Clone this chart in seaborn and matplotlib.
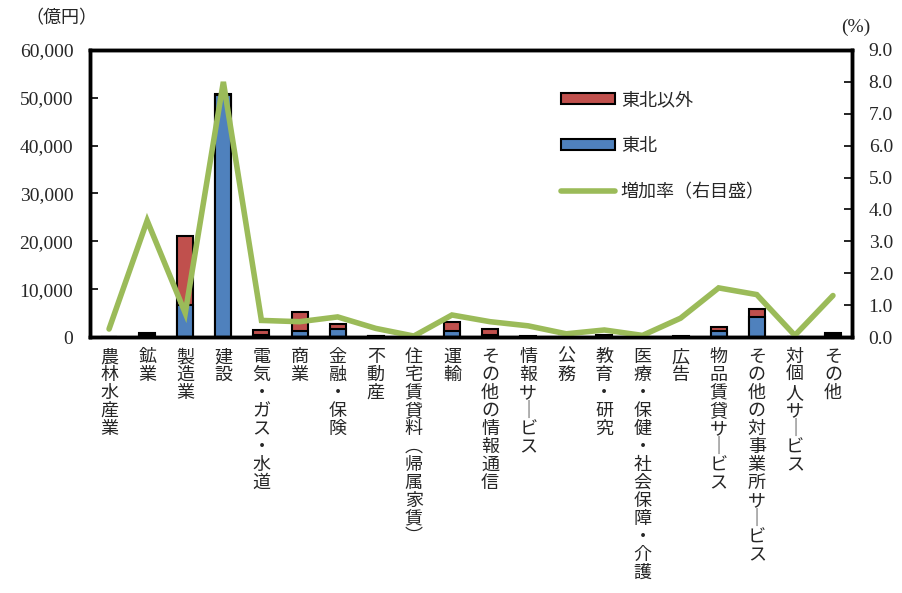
import numpy as np
import pandas as pd
import matplotlib
matplotlib.use("Agg")
import matplotlib.pyplot as plt
import seaborn as sns
from matplotlib.patches import Patch
from matplotlib.lines import Line2D
from matplotlib.ticker import FixedLocator, FuncFormatter

categories = ["農林水産業", "鉱業", "製造業", "建設", "電気・ガス・水道", "商業", "金融・保険",
              "不動産", "住宅賃貸料（帰属家賃）", "運輸", "その他の情報通信", "情報サービス", "公務",
              "教育・研究", "医療・保健・社会保障・介護", "広告", "物品賃貸サービス",
              "その他の対事業所サービス", "対個人サービス", "その他"]
tohoku = [60, 400, 6700, 50500, 400, 1200, 1600, 150, 20, 1200, 500, 100, 10,
          100, 10, 100, 1200, 4200, 50, 500]
other = [40, 350, 14500, 300, 1100, 4100, 1200, 150, 20, 1900, 1200, 100, 10,
         350, 10, 100, 900, 1600, 50, 400]
rate = [0.25, 3.65, 0.75, 8.0, 0.52, 0.48, 0.63, 0.27, 0.03, 0.69, 0.48, 0.35, 0.10,
        0.22, 0.05, 0.59, 1.54, 1.33, 0.05, 1.30]

left_ticks = [0, 10000, 20000, 30000, 40000, 50000, 60000]
right_ticks = [0, 1, 2, 3, 4, 5, 6, 7, 8, 9]

sns.set_theme(style="white")
plt.rcParams['font.family'] = ['Liberation Serif', 'Noto Sans CJK JP', 'DejaVu Sans']

RED = "#C0504D"
BLUE = "#4F81BD"
GREEN = "#9BBB59"

n = len(categories)
df = pd.DataFrame({"cat": categories, "tohoku": tohoku, "other": other, "rate": rate})
df["total"] = df["tohoku"] + df["other"]

fig = plt.figure(figsize=(9.03, 5.93), dpi=100)
ax = fig.add_axes([90/903, 1-337/593, (852-90)/903, (337-50)/593])

sns.barplot(data=df, x="cat", y="total", color=RED, saturation=1, width=0.42,
            edgecolor="black", linewidth=1.5, ax=ax, order=categories)
sns.barplot(data=df, x="cat", y="tohoku", color=BLUE, saturation=1, width=0.42,
            edgecolor="black", linewidth=1.5, ax=ax, order=categories)

ax.set_xlim(-0.5, n - 0.5)
ax.set_ylim(0, 60000)
ax.set_xlabel("")
ax.set_ylabel("")

def vert(s):
    m = {"ー": "│", "（": "︵", "）": "︶"}
    return "\n".join(m.get(c, c) for c in s)

ax.set_xticks(range(n))
ax.set_xticklabels([vert(c) for c in categories], va="top", fontsize=13,
                   linespacing=1.0, family=['Noto Sans CJK JP', 'DejaVu Sans'])
ax.tick_params(axis="x", which="major", length=0, pad=8)
ax.xaxis.set_minor_locator(FixedLocator(np.arange(-0.5, n, 1.0)))
ax.tick_params(axis="x", which="minor", length=5, width=1.2, direction="out", color="black")

ax.set_yticks(left_ticks)
ax.yaxis.set_major_formatter(FuncFormatter(lambda v, p: f"{int(v):,}"))
ax.tick_params(axis="y", direction="in", length=6, width=1.2, labelsize=14, pad=12, color="black")
for sp in ax.spines.values():
    sp.set_linewidth(2.5)
    sp.set_color("black")
    sp.set_visible(True)

ax2 = ax.twinx()
sns.lineplot(x=np.arange(n), y=df["rate"], color=GREEN, linewidth=4.0, ax=ax2,
             solid_joinstyle="miter")
ax2.set_ylim(0, 9)
ax2.set_ylabel("")
ax2.set_yticks(right_ticks)
ax2.yaxis.set_major_formatter(FuncFormatter(lambda v, p: f"{v:.1f}"))
ax2.tick_params(axis="y", direction="in", length=6, width=1.2, labelsize=14, pad=12, color="black")
for sp in ax2.spines.values():
    sp.set_linewidth(2.5)
    sp.set_color("black")
ax2.set_xlim(-0.5, n - 0.5)

fig.text(25/903, 1-18/593, "（億円）", ha="left", va="center", fontsize=13,
         family=['Noto Sans CJK JP', 'DejaVu Sans'])
fig.text(856/903, 1-27/593, "(%)", ha="center", va="center", fontsize=14)

handles = [Patch(facecolor=RED, edgecolor="black", linewidth=1.5),
           Patch(facecolor=BLUE, edgecolor="black", linewidth=1.5),
           Line2D([0], [0], color=GREEN, linewidth=4.0)]
labels = ["東北以外", "東北", "増加率（右目盛）"]
leg = ax2.legend(handles, labels, loc="upper left", bbox_to_anchor=(545/903, 1-75/593),
                 bbox_transform=fig.transFigure, frameon=False, handlelength=3.0,
                 handleheight=0.55, labelspacing=1.55, handletextpad=0.3,
                 prop={"family": ['Noto Sans CJK JP', 'DejaVu Sans'], "size": 13})

fig.savefig("out.png", dpi=100)
